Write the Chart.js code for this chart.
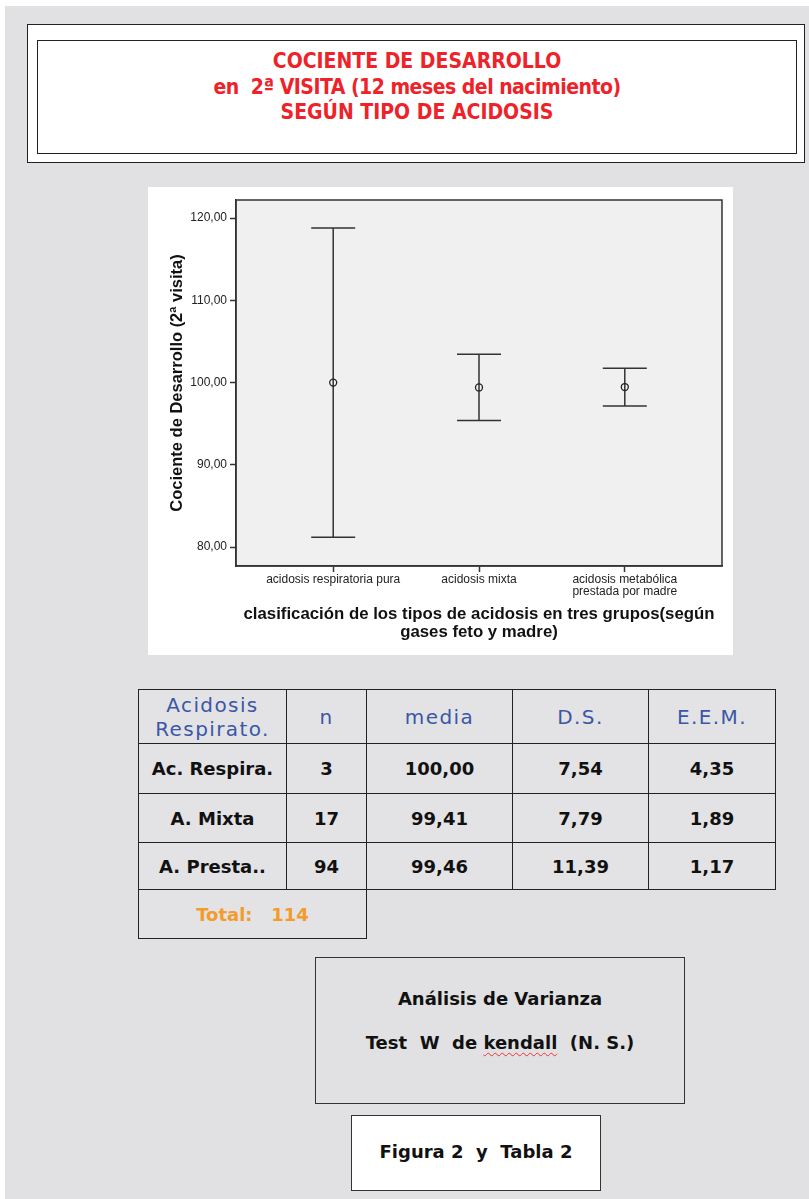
<!DOCTYPE html>
<html>
<head>
<meta charset="utf-8">
<script src="https://cdn.jsdelivr.net/npm/chart.js@4.4.1/dist/chart.umd.min.js"></script>
<style>
body { margin:0; width:809px; height:1199px; background:#fff; position:relative; overflow:hidden; font-family:"DejaVu Sans", Verdana, sans-serif; }
.abs { position:absolute; box-sizing:border-box; }
#page { left:5px; top:6px; width:804px; height:1193px; background:#e1e1e3; }
#titleOuter { left:27px; top:24px; width:778px; height:139px; border:1.5px solid #222; background:#fff; }
#titleInner { left:37px; top:40px; width:760px; height:114px; border:1.5px solid #222; background:#fff; }
#titleText { left:37px; top:49px; width:760px; text-align:center; line-height:25.5px; color:#ee2229;
  font-family:"DejaVu Sans Condensed", "Liberation Sans", sans-serif; font-weight:bold; font-size:21px; }
#titleText .tight { letter-spacing:-0.5px; }
#chartBox { left:148px; top:187px; width:585px; height:468px; background:#fff; }
#tbl { left:138px; top:689px; border-collapse:collapse; table-layout:fixed; }
#tbl td { border:1.5px solid #222; text-align:center; padding:0; font-weight:bold; font-size:18px; color:#111; background:#e3e3e5; }
#tbl tr.head td { font-weight:normal; color:#3b57a6; font-size:20px; letter-spacing:1.4px; line-height:24px; }
#tbl td.blank { border:none; background:transparent; }
#tbl td.total { color:#f39c2b; }
#anova { left:315px; top:957px; width:370px; height:147px; border:1.5px solid #333; background:#e1e1e3; }
#anovaText { left:315px; top:977px; width:370px; text-align:center; font-weight:bold; font-size:18px; line-height:44px; color:#111; }
.kendall { text-decoration:underline wavy #e33; text-decoration-thickness:1px; text-underline-offset:3px; }
#fig { left:351px; top:1115px; width:250px; height:76px; border:1.5px solid #333; background:#fff; }
#figText { left:351px; top:1140px; width:250px; text-align:center; font-weight:bold; font-size:18px; line-height:24px; color:#111; }
</style>
</head>
<body>
<div id="page" class="abs"></div>
<div id="titleOuter" class="abs"></div>
<div id="titleInner" class="abs"></div>
<div id="titleText" class="abs">COCIENTE DE DESARROLLO<br><span class="tight">en&nbsp; 2ª VISITA (12 meses del nacimiento)</span><br>SEGÚN TIPO DE ACIDOSIS</div>
<div id="chartBox" class="abs"><canvas id="chart" width="585" height="468"></canvas></div>
<table id="tbl" class="abs"></table>
<div id="anova" class="abs"></div>
<div id="anovaText" class="abs">Análisis de Varianza<br>Test&nbsp; W&nbsp; de <span class="kendall">kendall</span>&nbsp; (N. S.)</div>
<div id="fig" class="abs"></div>
<div id="figText" class="abs">Figura 2&nbsp; y&nbsp; Tabla 2</div>
<script>
// chart values
var categories = [["acidosis respiratoria pura"], ["acidosis mixta"], ["acidosis metabólica", "prestada por madre"]];
var means = [100.00, 99.41, 99.46];
var lower = [81.2, 95.4, 97.15];
var upper = [118.8, 103.45, 101.75];
var yTicks = [80, 90, 100, 110, 120];

// table values
var tableHeader = ["Acidosis<br>Respirato.", "n", "media", "D.S.", "E.E.M."];
var rowLabels = ["Ac. Respira.", "A. Mixta", "A. Presta.."];
var nValues = ["3", "17", "94"];
var mediaValues = ["100,00", "99,41", "99,46"];
var dsValues = ["7,54", "7,79", "11,39"];
var eemValues = ["4,35", "1,89", "1,17"];
var totalText = "Total:&nbsp;&nbsp; 114";

var colWidths = [148, 80, 146, 136, 127];
var rowHeights = [54, 50, 49, 47, 49];

// build table
var html = '<colgroup>' + colWidths.map(function(w){ return '<col style="width:' + w + 'px">'; }).join('') + '</colgroup>';
html += '<tr class="head" style="height:' + rowHeights[0] + 'px">' + tableHeader.map(function(h){ return '<td>' + h + '</td>'; }).join('') + '</tr>';
for (var i = 0; i < rowLabels.length; i++) {
  html += '<tr style="height:' + rowHeights[i+1] + 'px"><td>' + rowLabels[i] + '</td><td>' + nValues[i] + '</td><td>' + mediaValues[i] +
    '</td><td>' + dsValues[i] + '</td><td>' + eemValues[i] + '</td></tr>';
}
html += '<tr style="height:' + rowHeights[4] + 'px"><td colspan="2" class="total">' + totalText + '</td><td class="blank"></td><td class="blank"></td><td class="blank"></td></tr>';
document.getElementById('tbl').innerHTML = html;

var axisFont = "'Liberation Sans', Arial, sans-serif";

// grey plot area with a frame
var plotFrame = {
  id: 'plotFrame',
  beforeDraw: function(chart) {
    var a = chart.chartArea, c = chart.ctx;
    c.save();
    c.fillStyle = '#eff0ef';
    c.fillRect(a.left, a.top, a.right - a.left, a.bottom - a.top);
    c.restore();
  },
  afterDraw: function(chart) {
    var a = chart.chartArea, c = chart.ctx;
    c.save();
    c.strokeStyle = '#333';
    c.lineWidth = 1.5;
    c.strokeRect(a.left, a.top, a.right - a.left, a.bottom - a.top);
    c.restore();
  }
};

// 95% CI whiskers
var errorBars = {
  id: 'errorBars',
  beforeDatasetsDraw: function(chart) {
    var x = chart.scales.x, y = chart.scales.y, c = chart.ctx;
    c.save();
    c.strokeStyle = '#333';
    c.lineWidth = 1.5;
    for (var i = 0; i < means.length; i++) {
      var px = x.getPixelForValue(i + 1);
      var top = y.getPixelForValue(upper[i]);
      var bot = y.getPixelForValue(lower[i]);
      c.beginPath();
      c.moveTo(px, top); c.lineTo(px, bot);
      c.moveTo(px - 22, top); c.lineTo(px + 22, top);
      c.moveTo(px - 22, bot); c.lineTo(px + 22, bot);
      c.stroke();
    }
    c.restore();
  }
};

var chart = new Chart('chart', {
  type: 'scatter',
  data: {
    datasets: [{
      data: means.map(function(m, i){ return {x: i + 1, y: m}; }),
      pointRadius: 3.5,
      pointHoverRadius: 3.5,
      pointBorderWidth: 1.3,
      pointBorderColor: '#222',
      pointBackgroundColor: 'rgba(0,0,0,0)'
    }]
  },
  options: {
    responsive: false,
    animation: false,
    devicePixelRatio: 1,
    layout: { padding: { top: 13, right: 11, left: 0, bottom: 0 } },
    plugins: { legend: { display: false }, tooltip: { enabled: false } },
    scales: {
      x: {
        type: 'linear',
        min: 1/3,
        max: 11/3,
        afterBuildTicks: function(s) { s.ticks = [1, 2, 3].map(function(v){ return {value: v}; }); },
        afterFit: function(s) { s.height = 89; },
        grid: { drawOnChartArea: false, tickLength: 6, tickColor: '#333', tickWidth: 1.5 },
        border: { color: '#333', width: 1.5 },
        ticks: {
          autoSkip: false, maxRotation: 0, padding: 2, color: '#222',
          font: { family: axisFont, size: 12, lineHeight: 1.0 },
          callback: function(v) { return categories[Math.round(v) - 1]; }
        },
        title: {
          display: true,
          text: ['clasificación de los tipos de acidosis en tres grupos(según', 'gases feto y madre)'],
          color: '#111',
          font: { family: axisFont, size: 16.8, weight: 'bold', lineHeight: 1.02 },
          padding: { top: 0, bottom: 14.5 }
        }
      },
      y: {
        min: 77.7,
        max: 122.2,
        afterBuildTicks: function(s) { s.ticks = yTicks.map(function(v){ return {value: v}; }); },
        afterFit: function(s) { s.width = 88; },
        grid: { drawOnChartArea: false, tickLength: 6, tickColor: '#333', tickWidth: 1.5 },
        border: { color: '#333', width: 1.5 },
        ticks: {
          padding: 3, color: '#222',
          font: { family: axisFont, size: 12 },
          callback: function(v) { return v.toFixed(2).replace('.', ','); }
        },
        title: {
          display: true,
          text: 'Cociente de Desarrollo (2ª visita)',
          color: '#111',
          font: { family: axisFont, size: 16.5, weight: 'bold', lineHeight: 1.06 },
          padding: { top: 20.5, bottom: 0 }
        }
      }
    }
  },
  plugins: [plotFrame, errorBars]
});
</script>
</body>
</html>
